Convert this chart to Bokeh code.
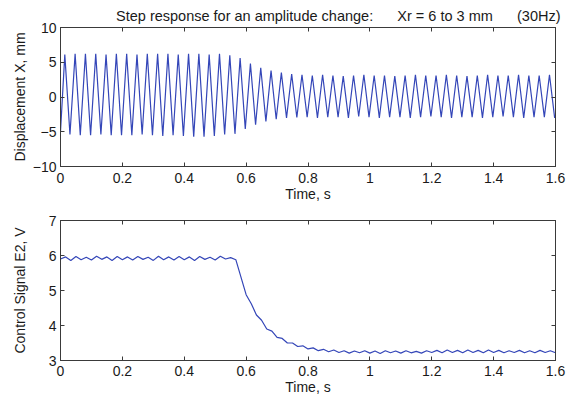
import numpy as np
from bokeh.plotting import figure
from bokeh.models import LinearAxis, FixedTicker, Range1d, Title
from bokeh.layouts import column
from bokeh.embed import file_html
from bokeh.resources import INLINE

# ---- data ----
x_ticks = [0, 0.2, 0.4, 0.6, 0.8, 1.0, 1.2, 1.4, 1.6]
x_tick_labels = ["0", "0.2", "0.4", "0.6", "0.8", "1", "1.2", "1.4", "1.6"]
top_y_ticks = [-10, -5, 0, 5, 10]
bot_y_ticks = [3, 4, 5, 6, 7]

# displacement: extreme values of each 30 Hz cycle (peak then trough)
half_period = 1 / 60
first_peak_t = 0.0139
disp_start = -5.0
disp_end = -2.7
disp_peaks = [6.1, 6.2, 6.2, 6.2, 6.1, 6.2, 6.2, 6.1, 6.2, 6.2, 6.2, 6.1, 6.2, 6.2, 6.1, 6.2, 6.0,
              5.6, 4.8, 4.2, 3.8, 3.5, 3.3, 3.2,
              3.1, 3.2, 3.1, 3.0, 3.1, 3.2, 3.1, 3.1, 3.0, 3.1, 3.2, 3.1,
              3.1, 3.2, 3.1, 3.0, 3.1, 3.2, 3.1, 3.1, 3.2, 3.1, 3.1, 3.2]
disp_troughs = [-5.4, -5.5, -5.5, -5.4, -5.5, -5.5, -5.5, -5.4, -5.5, -5.6, -5.5, -5.6, -5.7, -5.7, -5.6, -5.4, -5.3,
                -4.6, -4.0, -3.5, -3.2, -3.0, -2.95,
                -2.9, -3.0, -2.9, -2.9, -3.0, -2.8, -2.9, -3.0, -2.9, -2.9, -3.0, -2.9, -2.8,
                -2.9, -3.0, -2.9, -2.9, -3.0, -2.9, -2.8, -2.9, -3.0, -2.9, -2.9, -3.0]

# control signal E2 sampled every 1/60 s
control_dt = 1 / 60
control = [5.90, 5.96, 5.86, 5.97, 5.88, 5.95, 5.87, 5.98, 5.89, 5.96,
           5.86, 5.97, 5.88, 5.96, 5.87, 5.97, 5.89, 5.95, 5.86, 5.98,
           5.88, 5.96, 5.87, 5.97, 5.88, 5.96, 5.86, 5.97, 5.89, 5.95,
           5.87, 5.98, 5.90, 5.94,
           5.88, 5.38, 4.88, 4.62, 4.30, 4.15, 3.90, 3.84, 3.66, 3.63,
           3.50, 3.50, 3.40, 3.42, 3.33, 3.36, 3.28, 3.32, 3.25, 3.30, 3.23,
           3.28, 3.21, 3.27, 3.22, 3.28, 3.21, 3.27, 3.20, 3.28, 3.22,
           3.27, 3.21, 3.28, 3.22, 3.26, 3.21, 3.28, 3.23, 3.29, 3.22,
           3.30, 3.23, 3.29, 3.22, 3.30, 3.23, 3.29, 3.22, 3.30, 3.23,
           3.29, 3.22, 3.28, 3.23, 3.29, 3.22, 3.28, 3.22, 3.29, 3.23,
           3.28, 3.22]

title_text = ("Step response for an amplitude change:" + "\u00a0" * 6 +
              "Xr = 6 to 3 mm" + "\u00a0" * 6 + "(30Hz)")

# ---- build series ----
ext_vals = []
for pk, tr in zip(disp_peaks, disp_troughs):
    ext_vals += [pk, tr]
ext_t = first_peak_t + np.arange(len(ext_vals)) * half_period
top_t = np.concatenate([[0.0], ext_t, [1.6]])
top_v = np.concatenate([[disp_start], ext_vals, [disp_end]])

bot_t = np.arange(len(control)) * control_dt
bot_v = np.array(control)

FONT = "Liberation Sans"
LINE = "#3446b8"
FRAME = "#3a3a3a"
TXT = "#1a1a1a"


def style_axis(ax, ticks, labels=None, show_labels=True):
    ax.ticker = FixedTicker(ticks=ticks)
    ax.major_tick_in = 4
    ax.major_tick_out = 0
    ax.minor_tick_line_color = None
    ax.major_tick_line_color = FRAME
    ax.axis_line_color = FRAME
    ax.major_label_text_font = FONT
    ax.major_label_text_color = TXT
    ax.axis_label_text_font = FONT
    ax.axis_label_text_font_style = "normal"
    ax.axis_label_text_color = TXT
    ax.axis_label_text_font_size = "14px"
    if labels is not None:
        ax.major_label_overrides = {t: l for t, l in zip(ticks, labels)}
    if show_labels:
        ax.major_label_text_font_size = "14px"
    else:
        ax.major_label_text_font_size = "1px"
        ax.major_label_text_color = None
        ax.major_label_standoff = 0


def make_fig(yr, yticks, ylabel, height, top_border, bottom_border, ylab_standoff, xlab_standoff):
    p = figure(width=574, height=height, output_backend="svg",
               toolbar_location=None, x_range=Range1d(0, 1.6), y_range=Range1d(*yr),
               min_border_left=60, min_border_right=19,
               min_border_top=top_border, min_border_bottom=bottom_border)
    p.grid.visible = False
    p.outline_line_color = FRAME
    p.background_fill_color = "white"
    style_axis(p.xaxis[0], x_ticks, x_tick_labels)
    style_axis(p.yaxis[0], yticks)
    p.xaxis[0].axis_label = "Time, s"
    p.xaxis[0].major_label_standoff = xlab_standoff
    p.xaxis[0].axis_label_standoff = 0
    p.yaxis[0].axis_label = ylabel
    p.yaxis[0].major_label_standoff = 4
    p.yaxis[0].axis_label_standoff = ylab_standoff
    ax_top = LinearAxis()
    style_axis(ax_top, x_ticks, show_labels=False)
    p.add_layout(ax_top, "above")
    ax_right = LinearAxis()
    style_axis(ax_right, yticks, show_labels=False)
    p.add_layout(ax_right, "right")
    return p


p1 = make_fig((-10, 10), top_y_ticks, "Displacement X, mm", 208, 27, 42, 2, 6)
p1.add_layout(Title(text=title_text, align="right", offset=-5,
                    text_font=FONT, text_font_size="14.5px", text_font_style="normal",
                    text_color=TXT, standoff=8), "above")
p1.line(top_t, top_v, line_color=LINE, line_width=1.2)

p2 = make_fig((3, 7), bot_y_ticks, "Control Signal E2, V", 190, 12, 38, 18, 5)
p2.line(bot_t, bot_v, line_color=LINE, line_width=1.2)

layout = column(p1, p2, spacing=0)
open("out.html", "w").write(file_html(layout, INLINE))
